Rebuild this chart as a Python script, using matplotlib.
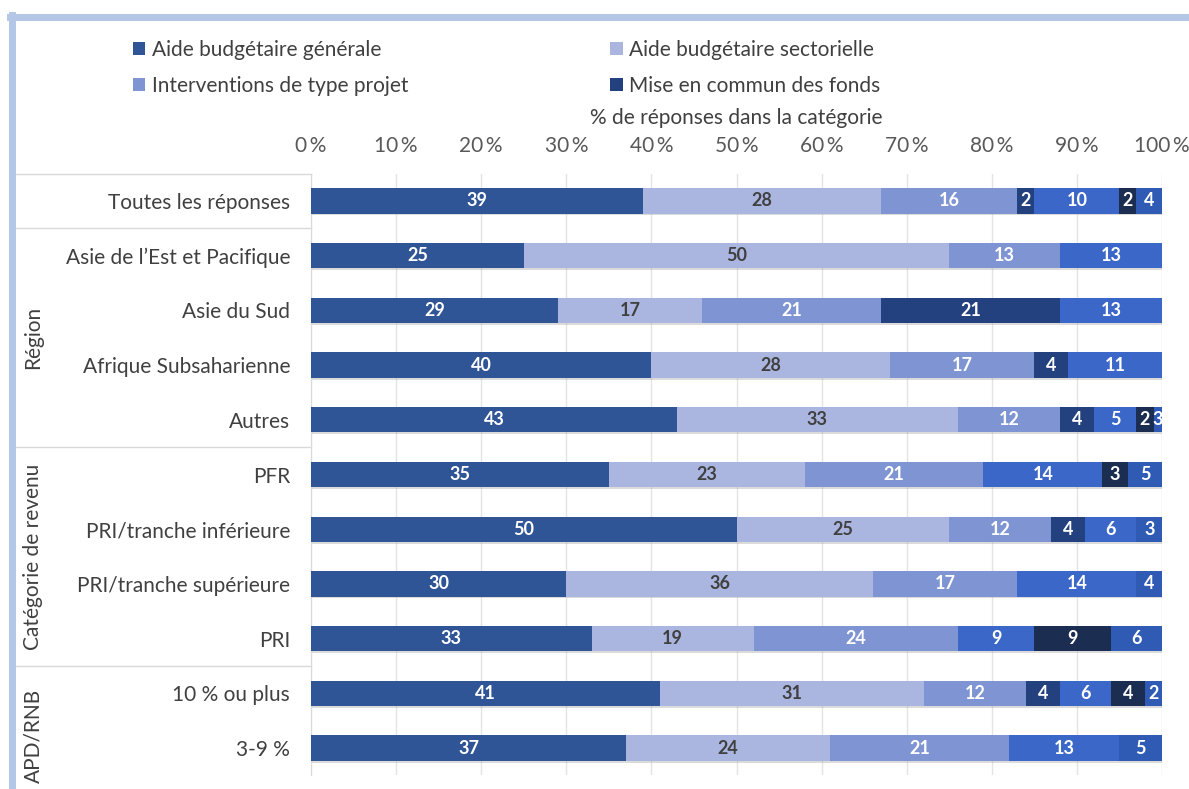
import numpy as np
import matplotlib.pyplot as plt
from matplotlib.lines import Line2D
from matplotlib.patches import Patch
from matplotlib.transforms import blended_transform_factory

plt.rcParams['font.family'] = ['Lato', 'DejaVu Sans']

categories = ["Toutes les réponses", "Asie de l’Est et Pacifique", "Asie du Sud",
              "Afrique Subsaharienne", "Autres", "PFR", "PRI/tranche inférieure",
              "PRI/tranche supérieure", "PRI", "10 % ou plus", "3-9 %"]

# one list per stacked segment, in drawing order (0 = absent)
seg1 = [39, 25, 29, 40, 43, 35, 50, 30, 33, 41, 37]
seg2 = [28, 50, 17, 28, 33, 23, 25, 36, 19, 31, 24]
seg3 = [16, 13, 21, 17, 12, 21, 12, 17, 24, 12, 21]
seg4 = [2, 0, 21, 4, 4, 0, 4, 0, 0, 4, 0]
seg5 = [10, 13, 13, 11, 5, 14, 6, 14, 9, 6, 13]
seg6 = [2, 0, 0, 0, 2, 3, 0, 0, 9, 4, 0]
seg7 = [4, 0, 0, 0, 3, 5, 3, 4, 6, 2, 5]

legend_labels = ["Aide budgétaire générale", "Aide budgétaire sectorielle",
                 "Interventions de type projet", "Mise en commun des fonds"]

groups = [("Région", 2.5), ("Catégorie de revenu", 6.5), ("APD/RNB", 9.78)]

segments = [seg1, seg2, seg3, seg4, seg5, seg6, seg7]
colors = ["#2F5597", "#AAB6DF", "#7F95D3", "#24417F", "#3B68C8", "#1C2D52", "#2F5BB5"]
label_colors = ["white", "#404040", "white", "white", "white", "white", "white"]

fig = plt.figure(figsize=(11.89, 7.89), dpi=100)
ax = fig.add_axes([0.2616, 0.0172, 0.7157, 0.7628])

y = np.arange(len(categories))
left = np.zeros(len(categories))
for vals, col, tcol in zip(segments, colors, label_colors):
    vals = np.array(vals, dtype=float)
    # soft drop shadow under each bar
    ax.barh(y + 0.035, vals, left=left, height=0.46, color="#9a9a9a", alpha=0.35,
            zorder=2, linewidth=0)
    bars = ax.barh(y, vals, left=left, height=0.46, color=col, zorder=3, linewidth=0)
    for b, v in zip(bars, vals):
        if v > 0:
            # centre the label on the part of the segment inside the axis
            x0 = b.get_x()
            x1 = min(x0 + b.get_width(), 100)
            ax.text((x0 + x1) / 2, b.get_y() + b.get_height() / 2, f"{int(v)}",
                    ha="center", va="center", color=tcol, fontsize=13,
                    fontweight="bold", zorder=4)
    left += vals

ax.set_xlim(0, 100)
ax.set_ylim(len(categories) - 0.5, -0.5)
ax.set_xticks(np.arange(0, 101, 10))
ax.set_xticklabels([f"{t}\u2009%" for t in range(0, 101, 10)])
ax.xaxis.tick_top()
ax.tick_params(axis="x", length=0, pad=13, labelsize=15, labelcolor="#595959")
ax.set_yticks(y)
ax.set_yticklabels(categories)
ax.tick_params(axis="y", length=0, pad=15, labelsize=15, labelcolor="#404040")
ax.grid(axis="x", color="#E4E4E4", linewidth=1, zorder=0)
for s in ["top", "right", "bottom"]:
    ax.spines[s].set_visible(False)
ax.spines["left"].set_color("#D9D9D9")
ax.set_xlabel("% de réponses dans la catégorie", fontsize=15, color="#404040", labelpad=8)
ax.xaxis.set_label_position("top")

# category frame on the left
trans = blended_transform_factory(ax.transAxes, ax.transData)
x_frame = -0.348
line_kw = dict(color="#D9D9D9", linewidth=1, transform=trans, clip_on=False)
for yy in [-0.5, 0.5, 4.5, 8.5]:
    ax.add_line(Line2D([x_frame, 0], [yy, yy], **line_kw))
for name, yc in groups:
    ax.text(-0.3267, yc, name, rotation=90, ha="center", va="center", fontsize=15,
            color="#404040", transform=trans, clip_on=False)

# outer border of the panel
fig.add_artist(Line2D([0.0085, 1.0], [0.979, 0.979], color="#B4C7E7", linewidth=5))
fig.add_artist(Line2D([0.0105, 0.0105], [0.0, 0.981], color="#B4C7E7", linewidth=5))

# legend filled column-wise, so order the entries to read row by row
order = [0, 2, 1, 3]
handles = [Patch(facecolor=colors[i]) for i in order]
fig.legend(handles, [legend_labels[i] for i in order], ncol=2, loc="upper left",
           bbox_to_anchor=(0.096, 0.973), frameon=False, fontsize=15,
           handlelength=0.6, handleheight=0.6, handletextpad=0.3,
           columnspacing=9.7, labelspacing=0.75, labelcolor="#404040")

fig.savefig("out.png", dpi=100)
